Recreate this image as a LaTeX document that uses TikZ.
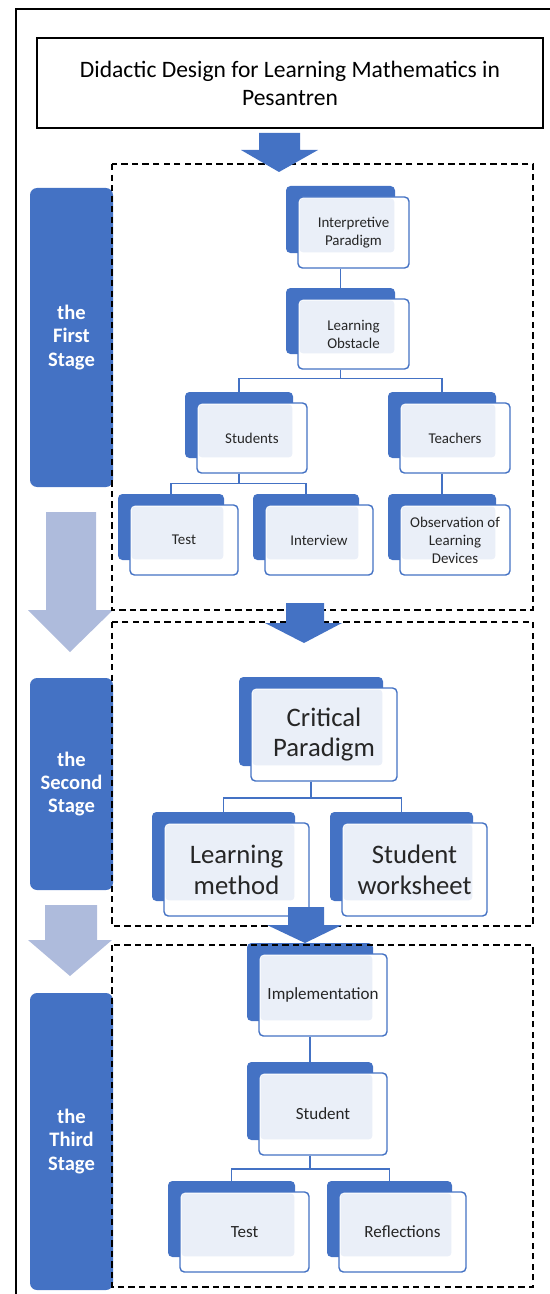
\documentclass[tikz,border=0pt]{standalone}
\usepackage{fontspec}
\setmainfont{Carlito}
\usepackage{xcolor}
\usetikzlibrary{calc}

\definecolor{accent}{HTML}{4472C4}
\definecolor{tint}{HTML}{EAEFF8}
\definecolor{pale}{HTML}{AEBBDC}

% stacked tile: [font style]{name}{x1}{y1}{x2}{y2}{text}, corners of the back card
\newcommand{\tile}[7][]{%
  \node[back, minimum width={(#5-#3)*0.02cm}, minimum height={(#6-#4)*0.02cm}]
    (#2-b) at ({(#3+#5)/2},{(#4+#6)/2}) {};
  \node[front=#2-b, minimum width={(#5-#3+2)*0.02cm}, minimum height={(#6-#4+4)*0.02cm}, #1]
    (#2) at ({(#3+#5)/2+13},{(#4+#6)/2+13}) {#7};
}

\begin{document}
\begin{tikzpicture}[
  x=0.02cm, y=-0.02cm,
  back/.style={fill=accent, rounded corners=2.5pt, inner sep=0pt},
  front/.style={draw=accent, line width=0.8pt, fill=white, rounded corners=2.5pt,
    align=center, inner sep=1pt, text=black!85,
    path picture={\fill[tint, rounded corners=2pt]
      ([shift={(1.5,1.5)}]path picture bounding box.north west)
      rectangle ([shift={(-1,-1)}]#1.south east);}},
  small/.style={font=\fontsize{8.5}{10.2}\selectfont},
  large/.style={font=\fontsize{15.2}{17.6}\selectfont},
  medium/.style={font=\fontsize{9.7}{11.6}\selectfont},
  stage/.style={fill=accent, rounded corners=4pt, minimum width=83*0.02cm,
    text=white, align=center, font=\fontsize{11.7}{13.2}\selectfont\bfseries},
  title/.style={draw, line width=1pt, minimum width=506*0.02cm,
    minimum height=90*0.02cm, align=center, font=\fontsize{13.4}{16}\selectfont},
  link/.style={draw=accent, line width=0.9pt},
  zone/.style={draw, line width=0.9pt, dash pattern=on 3.6pt off 2.4pt},
  blockarrow/.style={fill=accent},
  stagearrow/.style={fill=pale}
]
  \useasboundingbox (0,0) rectangle (550,1294);
  \draw[line width=0.9pt] (16,1294) -- (16,9) -- (550,9);

  \node[title] (ttl) at (290,83) {Didactic Design for Learning Mathematics in\\Pesantren};

  % stages on the left
  \node[stage, minimum height=299*0.02cm] (s1) at (71.5,337.5) {the\\First\\Stage};
  \node[stage, minimum height=212*0.02cm] (s2) at (71.5,784) {the\\Second\\Stage};
  \node[stage, minimum height=297*0.02cm] (s3) at (71.5,1141.5) {the\\Third\\Stage};

  \fill[stagearrow] (46,512) -- (96,512) -- (96,610) -- (113,610) -- (70,652)
    -- (28,610) -- (46,610) -- cycle;
  \fill[stagearrow] (45,905) -- (97,905) -- (97,940) -- (112,940) -- (70,976)
    -- (28,940) -- (45,940) -- cycle;

  % first stage
  \tile[small]{ip}{286}{186}{395}{253}{Interpretive\\Paradigm}
  \tile[small]{lo}{286}{288}{395}{354}{Learning\\Obstacle}
  \tile[small]{st}{185}{392}{293}{458}{Students}
  \tile[small]{te}{388}{392}{496}{458}{Teachers}
  \tile[small]{ts}{118}{494}{224}{560}{Test}
  \tile[small]{iv}{253}{494}{359}{560}{Interview}
  \tile[small]{od}{388}{494}{496}{560}{Observation of\\Learning\\Devices}

  \draw[link] (ip-b |- ip.south) -- (lo-b.north);
  \draw[link] (lo-b |- lo.south) -- ++(0,9) -| (st-b.north);
  \draw[link] (lo-b |- lo.south) -- ++(0,9) -| (te-b.north);
  \draw[link] (st-b |- st.south) -- ++(0,10) -| (ts-b.north);
  \draw[link] (st-b |- st.south) -- ++(0,10) -| (iv-b.north);
  \draw[link] (te-b |- te.south) -- (od-b.north);

  % second stage
  \tile[large]{cp}{239}{677}{383}{766}{Critical\\Paradigm}
  \tile[large]{lm}{152}{812}{295}{901}{Learning\\method}
  \tile[large]{sw}{330}{812}{473}{901}{Student\\worksheet}

  \draw[link] (cp-b |- cp.south) -- ++(0,16) -| (lm-b.north);
  \draw[link] (cp-b |- cp.south) -- ++(0,16) -| (sw-b.north);

  % third stage
  \tile[medium]{im}{247}{943}{373}{1021}{Implementation}
  \tile[medium]{sd}{247}{1062}{373}{1140}{Student}
  \tile[medium]{tt}{168}{1181}{295}{1257}{Test}
  \tile[medium]{rf}{327}{1181}{452}{1257}{Reflections}

  \draw[link] (im-b |- im.south) -- (sd-b.north);
  \draw[link] (sd-b |- sd.south) -- ++(0,13) -| (tt-b.north);
  \draw[link] (sd-b |- sd.south) -- ++(0,13) -| (rf-b.north);

  % dashed frames round each stage
  \draw[zone] (112,164) rectangle (533,610);
  \draw[zone] (112,622) rectangle (533,926);
  \draw[zone] (112,945) rectangle (533,1287);

  % arrows between the frames
  \fill[blockarrow] (259,133) -- (300,133) -- (300,150) -- (318,150) -- (279,172)
    -- (241,150) -- (259,150) -- cycle;
  \fill[blockarrow] (286,603) -- (324,603) -- (324,623) -- (342,623) -- (304,643)
    -- (265,623) -- (286,623) -- cycle;
  \fill[blockarrow] (288,907) -- (324,907) -- (324,925) -- (342,925) -- (305,943)
    -- (267,925) -- (288,925) -- cycle;
\end{tikzpicture}
\end{document}
